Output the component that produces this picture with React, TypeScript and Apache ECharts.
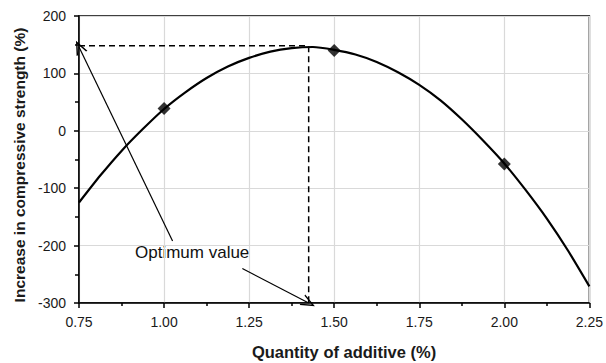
import React, { useEffect, useRef } from "react";
import * as echarts from "echarts";

// Fitted curve
const curveX = [
  0.75, 0.8125, 0.875, 0.9375, 1.0, 1.0625, 1.125, 1.1875, 1.25, 1.3125, 1.375, 1.4375,
  1.5, 1.5625, 1.625, 1.6875, 1.75, 1.8125, 1.875, 1.9375, 2.0, 2.0625, 2.125, 2.1875, 2.25,
];
const curveY = [
  -125, -78, -35, 3, 38, 67, 92, 112, 127, 138, 144, 146,
  141, 133, 120, 102, 80, 53, 20, -17, -57, -103, -153, -209, -271,
];

// Measured data points
const pointX = [1.0, 1.5, 2.0];
const pointY = [39, 140, -58];

// Optimum
const optimumX = 1.425;
const optimumY = 148;

const xTicks = [0.75, 1.0, 1.25, 1.5, 1.75, 2.0, 2.25];
const yMin = -300;
const yMax = 200;

// Arrow start points (near the "Optimum value" label)
const arrow1Start = [1.025, -192];
const arrow2Start = [1.23, -240];

const openArrow = "path://M0,0 L6,14 L4.4,14 L0,3.6 L-4.4,14 L-6,14 Z";

export default function App() {
  const ref = useRef<HTMLDivElement>(null);
  useEffect(() => {
    if (!ref.current) return;
    const chart = echarts.init(ref.current, null, { renderer: "svg" });
    const sans = "'Liberation Sans', Arial, sans-serif";
    const tickFont = { fontFamily: sans, fontSize: 14, color: "#1a1a1a" };
    chart.setOption({
      animation: false,
      backgroundColor: "#fff",
      grid: {
        left: 79,
        right: 15,
        top: 16,
        bottom: 60,
        show: true,
        borderColor: "#000",
        borderWidth: 1.5,
        backgroundColor: "transparent",
      },
      xAxis: {
        type: "value",
        min: xTicks[0],
        max: xTicks[xTicks.length - 1],
        interval: 0.25,
        axisLine: { show: true, onZero: false, lineStyle: { color: "#000", width: 1.5 } },
        axisTick: { show: true, length: 5, lineStyle: { color: "#000", width: 1.5 } },
        minorTick: { show: true, splitNumber: 2, length: 3, lineStyle: { color: "#000", width: 1.5 } },
        axisLabel: { ...tickFont, margin: 12, formatter: (v: number) => v.toFixed(2) },
        splitLine: { show: true, lineStyle: { color: "#d9d9d9", width: 1.2 } },
      },
      yAxis: {
        type: "value",
        min: yMin,
        max: yMax,
        interval: 100,
        axisLine: { show: true, onZero: false, lineStyle: { color: "#000", width: 1.5 } },
        axisTick: { show: true, length: 5, lineStyle: { color: "#000", width: 1.5 } },
        minorTick: { show: true, splitNumber: 2, length: 4, lineStyle: { color: "#000", width: 1.5 } },
        axisLabel: { ...tickFont, margin: 13 },
        splitLine: { show: true, lineStyle: { color: "#d9d9d9", width: 1.2 } },
      },
      graphic: [
        {
          type: "text",
          x: 19,
          y: 165,
          rotation: Math.PI / 2,
          style: {
            text: "Increase in compressive strength (%)",
            fontFamily: sans,
            fontSize: 15.5,
            fontWeight: "bold",
            fill: "#1a1a1a",
            align: "center",
            verticalAlign: "middle",
          },
        },
        {
          type: "text",
          x: 344,
          y: 352,
          style: {
            text: "Quantity of additive (%)",
            fontFamily: sans,
            fontSize: 16.5,
            fontWeight: "bold",
            fill: "#1a1a1a",
            align: "center",
            verticalAlign: "middle",
          },
        },
        {
          type: "text",
          x: 135,
          y: 252,
          style: {
            text: "Optimum value",
            fontFamily: sans,
            fontSize: 17,
            fill: "#111",
            align: "left",
            verticalAlign: "middle",
          },
        },
      ],
      series: [
        {
          type: "line",
          data: curveX.map((x, i) => [x, curveY[i]]),
          smooth: 0.2,
          showSymbol: false,
          symbol: "none",
          lineStyle: { color: "#000", width: 2.2 },
          z: 3,
          markLine: {
            silent: true,
            symbol: ["none", openArrow],
            symbolSize: [12, 14],
            label: { show: false },
            lineStyle: { color: "#000", width: 1.2, type: "solid" },
            data: [
              [
                { coord: arrow1Start, symbol: "none" },
                { coord: [xTicks[0], optimumY - 2], symbol: openArrow },
              ],
              [
                { coord: arrow2Start, symbol: "none" },
                { coord: [optimumX, yMin], symbol: openArrow },
              ],
            ],
          },
        },
        {
          type: "line",
          data: [
            [xTicks[0], optimumY],
            [optimumX, optimumY],
            [optimumX, yMin],
          ],
          showSymbol: false,
          symbol: "none",
          lineStyle: { color: "#000", width: 1.5, type: [6, 4] },
          z: 2,
        },
        {
          type: "scatter",
          data: pointX.map((x, i) => [x, pointY[i]]),
          symbol: "diamond",
          symbolSize: 13,
          itemStyle: { color: "#000" },
          z: 4,
        },
      ],
    });
    return () => chart.dispose();
  }, []);
  return (
    <div
      ref={ref}
      style={{ position: "absolute", left: 0, top: 0, width: 606, height: 363 }}
    />
  );
}
